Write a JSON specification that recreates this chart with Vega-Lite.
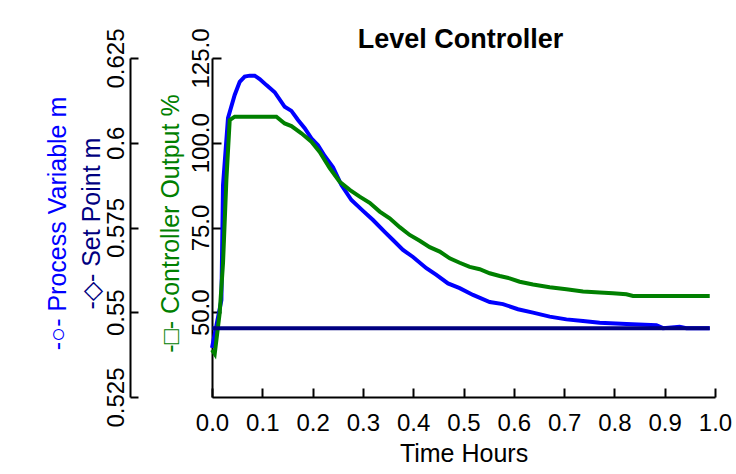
{
  "$schema": "https://vega.github.io/schema/vega-lite/v6.json",
  "width": 503,
  "height": 339,
  "autosize": {"type": "none"},
  "padding": {"left": 212, "top": 58, "right": 21, "bottom": 77},
  "background": "white",
  "config": {
    "view": {"stroke": null},
    "font": "Liberation Sans",
    "axis": {
      "grid": false,
      "domainColor": "black",
      "tickColor": "black",
      "domainWidth": 2,
      "tickWidth": 2,
      "labelColor": "black",
      "labelFont": "Liberation Sans",
      "titleFont": "Liberation Sans",
      "titleFontWeight": "normal",
      "labelFontSize": 24,
      "titleFontSize": 25,
      "labelOverlap": false,
      "labelFlush": false,
      "labelBound": false
    }
  },
  "title": {
    "text": "Level Controller",
    "font": "Liberation Sans",
    "fontSize": 27,
    "fontWeight": "bold",
    "anchor": "middle",
    "frame": "group",
    "baseline": "alphabetic",
    "offset": -47,
    "dx": -3,
    "color": "black"
  },
  "datasets": {
    "pv": [
      {"t": 0, "v": 0.5395},
      {"t": 0.0187, "v": 0.5536},
      {"t": 0.0219, "v": 0.5875},
      {"t": 0.0318, "v": 0.6073},
      {"t": 0.0451, "v": 0.6141},
      {"t": 0.0551, "v": 0.618},
      {"t": 0.065, "v": 0.6195},
      {"t": 0.0749, "v": 0.6198},
      {"t": 0.0849, "v": 0.6198},
      {"t": 0.0948, "v": 0.6188},
      {"t": 0.1082, "v": 0.617},
      {"t": 0.1247, "v": 0.6149},
      {"t": 0.1445, "v": 0.6106},
      {"t": 0.1579, "v": 0.6094},
      {"t": 0.171, "v": 0.6067},
      {"t": 0.1843, "v": 0.6043},
      {"t": 0.1976, "v": 0.6013},
      {"t": 0.2107, "v": 0.5993},
      {"t": 0.2241, "v": 0.5961},
      {"t": 0.2406, "v": 0.5928},
      {"t": 0.2573, "v": 0.5875},
      {"t": 0.2771, "v": 0.5831},
      {"t": 0.3002, "v": 0.5799},
      {"t": 0.3201, "v": 0.5772},
      {"t": 0.3433, "v": 0.5737},
      {"t": 0.3598, "v": 0.5713},
      {"t": 0.3797, "v": 0.5684},
      {"t": 0.3996, "v": 0.5663},
      {"t": 0.4262, "v": 0.563},
      {"t": 0.4461, "v": 0.561},
      {"t": 0.4692, "v": 0.5585},
      {"t": 0.4924, "v": 0.5571},
      {"t": 0.5189, "v": 0.5551},
      {"t": 0.5521, "v": 0.553},
      {"t": 0.5785, "v": 0.5524},
      {"t": 0.6083, "v": 0.5509},
      {"t": 0.6382, "v": 0.5499},
      {"t": 0.6714, "v": 0.5487},
      {"t": 0.7046, "v": 0.5479},
      {"t": 0.7376, "v": 0.5474},
      {"t": 0.7708, "v": 0.5469},
      {"t": 0.8239, "v": 0.5465},
      {"t": 0.8835, "v": 0.5462},
      {"t": 0.8966, "v": 0.5453},
      {"t": 0.9298, "v": 0.5457},
      {"t": 0.9431, "v": 0.5453},
      {"t": 0.9895, "v": 0.5453}
    ],
    "co": [
      {"t": 0, "v": 38.9},
      {"t": 0.0054, "v": 37.7},
      {"t": 0.0153, "v": 49.8},
      {"t": 0.0219, "v": 64.5},
      {"t": 0.0286, "v": 89.0},
      {"t": 0.0352, "v": 106.7},
      {"t": 0.0451, "v": 107.7},
      {"t": 0.128, "v": 107.7},
      {"t": 0.1445, "v": 105.7},
      {"t": 0.1579, "v": 104.9},
      {"t": 0.1777, "v": 102.8},
      {"t": 0.1976, "v": 100.3},
      {"t": 0.2141, "v": 97.3},
      {"t": 0.234, "v": 92.5},
      {"t": 0.2539, "v": 88.5},
      {"t": 0.2738, "v": 86.1},
      {"t": 0.2936, "v": 84.1},
      {"t": 0.3135, "v": 82.3},
      {"t": 0.3334, "v": 79.7},
      {"t": 0.3533, "v": 77.7},
      {"t": 0.3732, "v": 75.1},
      {"t": 0.393, "v": 72.8},
      {"t": 0.4129, "v": 71.1},
      {"t": 0.4328, "v": 69.2},
      {"t": 0.4527, "v": 67.9},
      {"t": 0.4726, "v": 65.9},
      {"t": 0.4924, "v": 64.6},
      {"t": 0.5123, "v": 63.4},
      {"t": 0.5322, "v": 62.7},
      {"t": 0.5521, "v": 61.5},
      {"t": 0.572, "v": 60.7},
      {"t": 0.5918, "v": 60.0},
      {"t": 0.6117, "v": 59.0},
      {"t": 0.6382, "v": 58.2},
      {"t": 0.6714, "v": 57.4},
      {"t": 0.7046, "v": 56.8},
      {"t": 0.7376, "v": 56.1},
      {"t": 0.7708, "v": 55.8},
      {"t": 0.7972, "v": 55.6},
      {"t": 0.8239, "v": 55.3},
      {"t": 0.837, "v": 54.8},
      {"t": 0.9895, "v": 54.8}
    ],
    "sp": [
      {"t": 0, "v": 0.5453},
      {"t": 0.9895, "v": 0.5453}
    ]
  },
  "encoding": {
    "x": {
      "field": "t",
      "type": "quantitative",
      "scale": {"domain": [0, 1], "nice": false, "zero": false},
      "axis": {
        "values": [0, 0.1, 0.2, 0.3, 0.4, 0.5, 0.6, 0.7, 0.8, 0.9, 1.0],
        "format": ".1f",
        "title": "Time Hours",
        "titleColor": "black",
        "tickSize": -9,
        "labelPadding": 23,
        "labelAngle": 0,
        "titleY": 44,
        "titleBaseline": "top"
      }
    }
  },
  "layer": [
    {
      "data": {"name": "pv"},
      "mark": {"type": "line", "color": "#0000FF", "strokeWidth": 4, "clip": false},
      "encoding": {
        "y": {
          "field": "v",
          "type": "quantitative",
          "scale": {"domain": [0.525, 0.625], "nice": false, "zero": false},
          "axis": {
            "orient": "left",
            "offset": 82,
            "values": [0.525, 0.55, 0.575, 0.6, 0.625],
            "format": ".3~f",
            "labelAngle": -90,
            "labelAlign": "center",
            "labelBaseline": "bottom",
            "tickSize": -8,
            "labelPadding": 10,
            "title": "-○-  Process Variable m",
            "titleColor": "#0000FF",
            "titleX": -73,
            "titleY": 165,
            "titleAngle": -90,
            "titleAlign": "center",
            "titleBaseline": "middle"
          }
        }
      }
    },
    {
      "data": {"name": "co"},
      "mark": {"type": "line", "color": "#008000", "strokeWidth": 4, "clip": false},
      "encoding": {
        "y": {
          "field": "v",
          "type": "quantitative",
          "scale": {"domain": [25, 125], "nice": false, "zero": false},
          "axis": {
            "orient": "left",
            "offset": 0,
            "values": [50, 75, 100, 125],
            "format": ".1f",
            "labelAngle": -90,
            "labelAlign": "center",
            "labelBaseline": "bottom",
            "tickSize": -9,
            "labelPadding": 8,
            "title": "-□-  Controller Output %",
            "titleColor": "#008000",
            "titleX": -42,
            "titleY": 165,
            "titleAngle": -90,
            "titleAlign": "center",
            "titleBaseline": "middle"
          }
        }
      }
    },
    {
      "data": {"name": "sp"},
      "mark": {"type": "line", "color": "#000080", "strokeWidth": 4, "clip": false},
      "encoding": {
        "y": {
          "field": "v",
          "type": "quantitative",
          "scale": {"domain": [0.525, 0.625], "nice": false, "zero": false},
          "axis": {
            "orient": "left",
            "offset": 82,
            "domain": false,
            "ticks": false,
            "labels": false,
            "title": "-◇-  Set Point m",
            "titleColor": "#000080",
            "titleX": -39,
            "titleY": 165,
            "titleAngle": -90,
            "titleAlign": "center",
            "titleBaseline": "middle"
          }
        }
      }
    }
  ],
  "resolve": {"scale": {"y": "independent"}, "axis": {"y": "independent"}}
}
